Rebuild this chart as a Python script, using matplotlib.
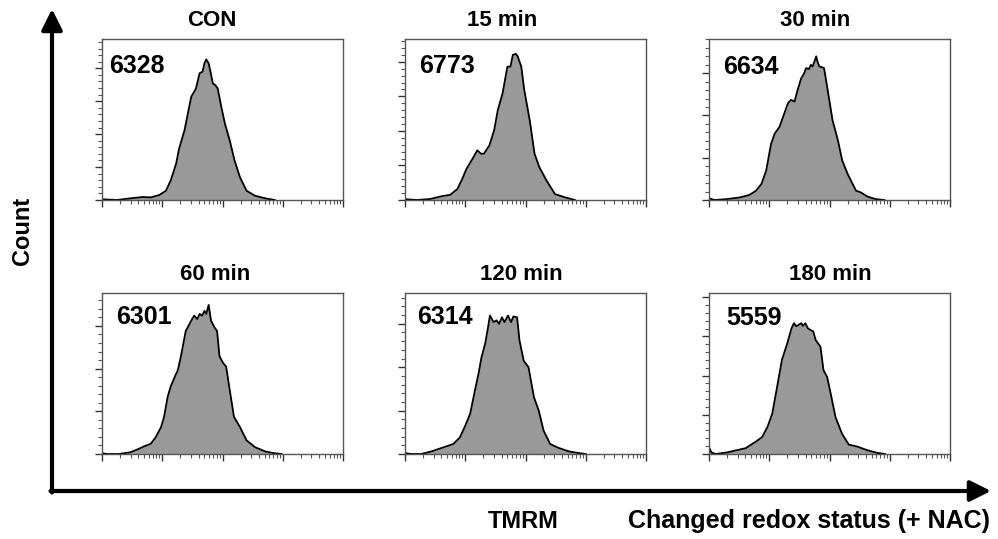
import numpy as np
import matplotlib
matplotlib.use("Agg")
import matplotlib.pyplot as plt
from matplotlib.patches import FancyArrowPatch
from matplotlib.ticker import MultipleLocator, LogLocator, NullFormatter

plt.rcParams['font.family'] = ['Liberation Sans', 'DejaVu Sans']

titles = ["CON", "15 min", "30 min", "60 min", "120 min", "180 min"]
mfi_labels = ["6328", "6773", "6634", "6301", "6314", "5559"]

# log10 TMRM intensity and event counts
con_x = [2.00, 2.02, 2.25, 2.47, 2.67, 2.81, 2.95, 3.06, 3.14, 3.23, 3.28, 3.37, 3.48, 3.56, 3.62, 3.67,
         3.70, 3.73, 3.77, 3.80, 3.84, 3.88, 3.92, 3.98, 4.04, 4.12, 4.20, 4.29, 4.40, 4.54, 4.71, 4.87]
con_y = [3, 2, 0, 5, 9, 8, 15, 28, 59, 110, 156, 212, 313, 339, 385, 390,
         415, 427, 415, 390, 354, 349, 339, 283, 232, 181, 120, 69, 28, 13, 5, 0]

m15_x = [2.00, 2.02, 2.20, 2.42, 2.61, 2.75, 2.87, 2.95, 3.02, 3.12, 3.20, 3.26, 3.31, 3.40, 3.48, 3.54,
         3.62, 3.68, 3.70, 3.75, 3.79, 3.84, 3.87, 3.93, 3.98, 4.07, 4.15, 4.23, 4.35, 4.49, 4.65, 4.82]
m15_y = [5, 2, 0, 3, 11, 15, 32, 61, 90, 119, 144, 134, 134, 158, 202, 260,
         309, 367, 386, 386, 420, 423, 416, 386, 318, 231, 134, 95, 56, 17, 8, 0]

m30_x = [2.00, 2.09, 2.29, 2.51, 2.67, 2.78, 2.87, 2.95, 3.03, 3.09, 3.17, 3.25, 3.31, 3.36, 3.42, 3.47,
         3.53, 3.58, 3.61, 3.66, 3.69, 3.72, 3.75, 3.78, 3.80, 3.83, 3.88, 3.91, 3.97, 4.05, 4.14, 4.21,
         4.30, 4.44, 4.52, 4.63, 4.77, 4.91]
m30_y = [4, 0, 2, 6, 12, 22, 38, 70, 133, 157, 173, 205, 229, 237, 233, 260,
         288, 300, 312, 310, 320, 316, 328, 340, 328, 316, 314, 312, 260, 189, 141, 94,
         62, 22, 18, 8, 2, 0]

m60_x = [2.00, 2.08, 2.28, 2.47, 2.61, 2.70, 2.81, 2.89, 2.98, 3.03, 3.09, 3.14, 3.20, 3.26, 3.31, 3.39,
         3.48, 3.53, 3.58, 3.62, 3.66, 3.70, 3.73, 3.77, 3.81, 3.87, 3.91, 3.95, 4.01, 4.06, 4.12, 4.19,
         4.29, 4.40, 4.54, 4.71, 4.85, 4.98]
m60_y = [2, 0, 0, 4, 12, 18, 24, 39, 63, 87, 134, 158, 178, 197, 229, 288,
         312, 324, 316, 328, 324, 335, 328, 349, 312, 296, 288, 229, 213, 205, 150, 87,
         63, 32, 16, 6, 2, 0]

m120_x = [2.00, 2.10, 2.27, 2.44, 2.63, 2.80, 2.91, 2.99, 3.08, 3.16, 3.22, 3.27, 3.33, 3.37, 3.41, 3.47,
          3.52, 3.56, 3.61, 3.65, 3.71, 3.76, 3.80, 3.86, 3.90, 3.97, 4.05, 4.14, 4.22, 4.30, 4.41, 4.55,
          4.72, 4.89, 5.00]
m120_y = [2, 0, 0, 6, 15, 23, 38, 62, 92, 146, 185, 223, 254, 285, 319, 304,
          308, 300, 315, 304, 319, 304, 317, 315, 262, 215, 200, 131, 100, 54, 23, 14,
          6, 2, 0]

m180_x = [2.00, 2.04, 2.11, 2.30, 2.47, 2.61, 2.72, 2.80, 2.88, 2.97, 3.05, 3.13, 3.21, 3.30, 3.37, 3.41,
          3.45, 3.49, 3.53, 3.56, 3.60, 3.64, 3.68, 3.73, 3.77, 3.85, 3.90, 3.96, 4.02, 4.10, 4.21, 4.32,
          4.46, 4.62, 4.79, 4.92]
m180_y = [17, 4, 0, 4, 10, 15, 26, 34, 43, 69, 103, 171, 240, 283, 321, 334,
          326, 330, 334, 327, 334, 321, 317, 313, 291, 274, 214, 197, 154, 94, 51, 24,
          19, 10, 3, 0]

panel_x = [con_x, m15_x, m30_x, m60_x, m120_x, m180_x]
panel_y = [con_y, m15_y, m30_y, m60_y, m120_y, m180_y]
panel_ymax = [489, 466, 381, 377, 371, 411]

W, H = 998, 539
fig = plt.figure(figsize=(W / 100, H / 100), dpi=100)

lefts = [102, 405, 709]
tops = [39, 293]
pw, ph = 241, 161
label_dx = [7, 14, 14, 14, 12, 17]
label_dy = [15, 15, 16, 12, 12, 13]
title_cx = [212, 502, 815, 215, 521, 830]
title_cy = [20, 275]

for i in range(6):
    r, c = divmod(i, 3)
    x0, y0 = lefts[c], tops[r]
    ax = fig.add_axes([x0 / W, 1 - (y0 + ph) / H, pw / W, ph / H])
    xs = 10 ** np.asarray(panel_x[i])
    ys = np.asarray(panel_y[i])
    ax.fill_between(xs, 0, ys, color='#999999', lw=0)
    ax.plot(xs, ys, color='black', lw=1.3)
    ax.set_xscale('log')
    ax.set_xlim(1e2, 1e6)
    ax.set_ylim(0, panel_ymax[i])
    ax.yaxis.set_major_locator(MultipleLocator(100))
    ax.yaxis.set_minor_locator(MultipleLocator(20))
    ax.xaxis.set_major_locator(LogLocator(base=10, numticks=10))
    ax.xaxis.set_minor_locator(LogLocator(base=10, subs=np.arange(2, 10), numticks=20))
    ax.xaxis.set_minor_formatter(NullFormatter())
    ax.set_xticklabels([])
    ax.set_yticklabels([])
    ax.tick_params(which='major', length=5, width=1.0, color='#333333', direction='out')
    ax.tick_params(which='minor', length=3, width=0.8, color='#555555', direction='out')
    for s in ax.spines.values():
        s.set_color('#555555')
        s.set_linewidth(1.0)
    ax.text(label_dx[i] / pw, 1 - label_dy[i] / ph, mfi_labels[i], transform=ax.transAxes,
            ha='left', va='top', fontsize=18, fontweight='bold')
    fig.text(title_cx[i] / W, 1 - title_cy[r] / H, titles[i], ha='center', va='center',
             fontsize=16, fontweight='bold')

# big axis arrows
lw = 3.0
va = FancyArrowPatch((52 / W, 1 - 492.5 / H), (52 / W, 1 - 9 / H), transform=fig.transFigure,
                     arrowstyle='-|>,head_length=0.9,head_width=0.45', mutation_scale=14,
                     lw=lw, color='black', shrinkA=0, shrinkB=0)
ha_ = FancyArrowPatch((50.5 / W, 1 - 491 / H), (991 / W, 1 - 491 / H), transform=fig.transFigure,
                      arrowstyle='-|>,head_length=0.9,head_width=0.45', mutation_scale=14,
                      lw=lw, color='black', shrinkA=0, shrinkB=0)
fig.add_artist(va)
fig.add_artist(ha_)

fig.text(22 / W, 1 - 231 / H, "Count", rotation=90, ha='center', va='center',
         fontsize=17, fontweight='bold')
fig.text(990 / W, 1 - 521 / H, "Changed redox status (+ NAC)", ha='right', va='center',
         fontsize=18, fontweight='bold')
fig.text(488 / W, 1 - 521 / H, "TMRM", ha='left', va='center',
         fontsize=17, fontweight='bold')

fig.savefig("out.png", dpi=100)
